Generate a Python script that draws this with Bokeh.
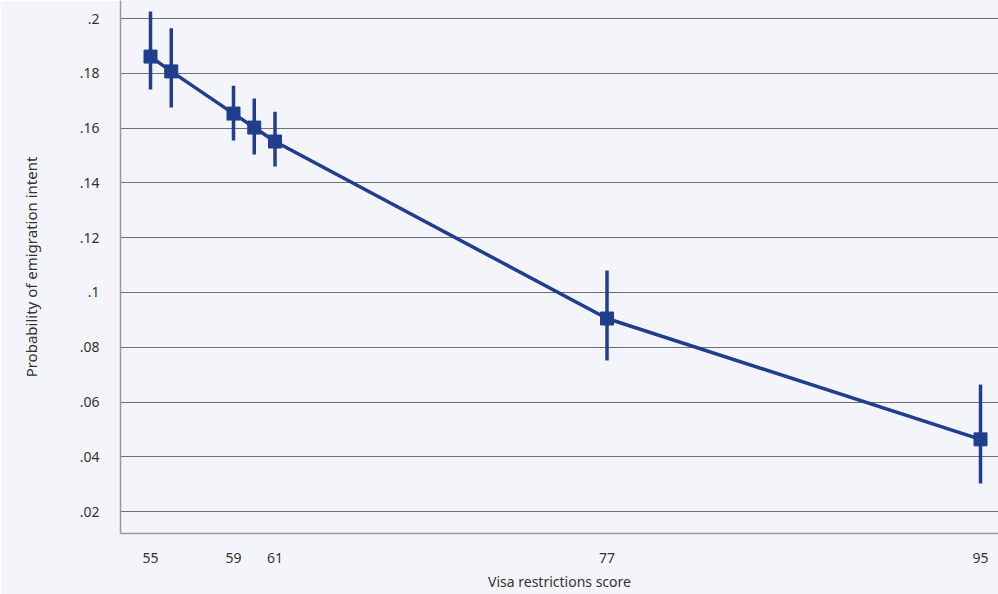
from bokeh.plotting import figure
from bokeh.models import ColumnDataSource, FixedTicker, Range1d, CustomJSTickFormatter
from bokeh.embed import file_html
from bokeh.resources import INLINE

# Data
scores = [55, 56, 59, 60, 61, 77, 95]
prob = [0.1861, 0.1807, 0.1653, 0.1602, 0.1551, 0.0905, 0.0464]
ci_low = [0.1741, 0.1675, 0.1555, 0.1504, 0.1460, 0.0752, 0.0303]
ci_high = [0.2026, 0.1964, 0.1755, 0.1708, 0.1660, 0.1080, 0.0664]
x_ticks = [55, 59, 61, 77, 95]
y_ticks = [0.02, 0.04, 0.06, 0.08, 0.10, 0.12, 0.14, 0.16, 0.18, 0.20]

BG = "#f4f5fa"
BLUE = "#213e8e"
FONT = "Noto Sans"

src = ColumnDataSource(dict(x=scores, y=prob, lo=ci_low, hi=ci_high))

p = figure(width=998, height=594, output_backend="svg", toolbar_location=None,
           x_range=Range1d(53.554, 95.867), y_range=Range1d(0.01204, 0.20657),
           min_border_left=120, min_border_right=0, min_border_top=0, min_border_bottom=61,
           background_fill_color=BG, border_fill_color=BG, outline_line_color=None)

p.segment(x0="x", y0="lo", x1="x", y1="hi", source=src, line_color=BLUE, line_width=3.5)
p.line(x="x", y="y", source=src, line_color=BLUE, line_width=3.5)
p.scatter(x="x", y="y", source=src, marker="square", size=13, fill_color=BLUE, line_color=BLUE)

p.xgrid.grid_line_color = None
p.ygrid.grid_line_color = "#6f6f6f"
p.ygrid.grid_line_width = 1

p.xaxis.ticker = FixedTicker(ticks=x_ticks)
p.yaxis.ticker = FixedTicker(ticks=y_ticks)
p.yaxis.formatter = CustomJSTickFormatter(code="""
    let s = tick.toFixed(2);
    s = s.replace(/^0/, '');
    s = s.replace(/0$/, '');
    return s;
""")

for ax in (p.xaxis, p.yaxis):
    ax.axis_line_color = "#9a9a9a"
    ax.axis_line_width = 1.5
    ax.major_tick_line_color = None
    ax.minor_tick_line_color = None
    ax.major_label_text_font = FONT
    ax.major_label_text_font_size = "14px"
    ax.major_label_text_color = "#333333"
    ax.axis_label_text_font = FONT
    ax.axis_label_text_font_style = "normal"
    ax.axis_label_text_color = "#333333"

p.yaxis.axis_label_text_font_size = "15px"
p.xaxis.axis_label_text_font_size = "14px"
p.yaxis.major_label_standoff = 15
p.yaxis.axis_label = "Probability of emigration intent"
p.yaxis.axis_label_standoff = 36
p.xaxis.major_label_standoff = 13
p.xaxis.axis_label = "Visa restrictions score"
p.xaxis.axis_label_standoff = 6

html = file_html(p, INLINE)
html = html.replace("<body>", '<body style="background:%s">' % BG, 1)
open("out.html", "w").write(html)
